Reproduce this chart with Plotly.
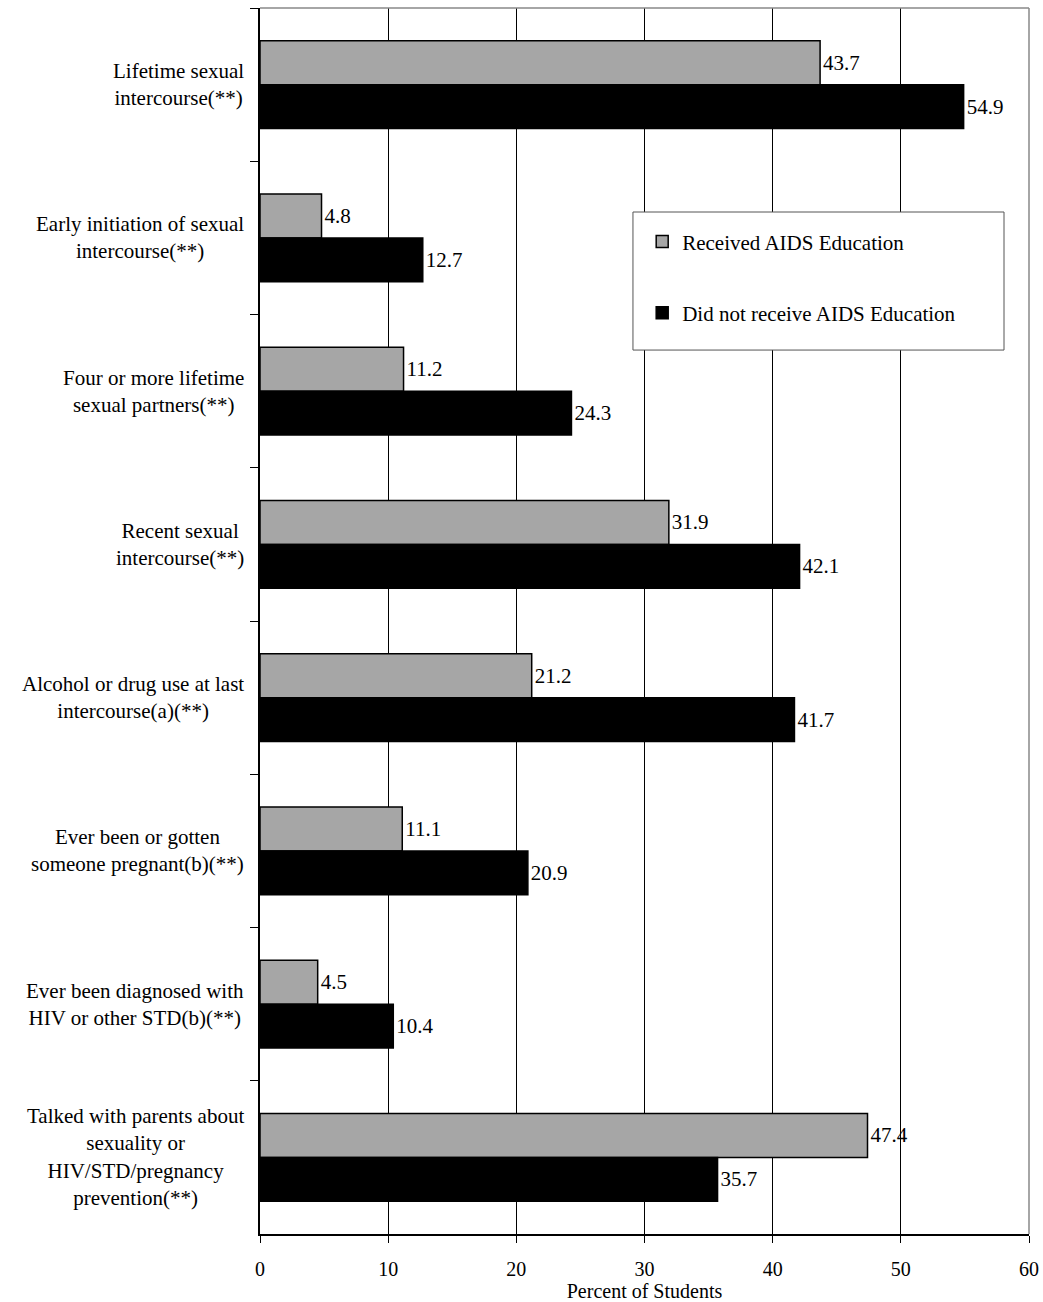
import plotly.graph_objects as go

categories = [
    "Lifetime sexual<br>intercourse(**)",
    "Early initiation of sexual<br>intercourse(**)",
    "Four or more lifetime<br>sexual partners(**)",
    "Recent sexual<br>intercourse(**)",
    "Alcohol or drug use at last<br>intercourse(a)(**)",
    "Ever been or gotten<br>someone pregnant(b)(**)",
    "Ever been diagnosed with<br>HIV or other STD(b)(**)",
    "Talked with parents about<br>sexuality or<br>HIV/STD/pregnancy<br>prevention(**)",
]
received = [43.7, 4.8, 11.2, 31.9, 21.2, 11.1, 4.5, 47.4]
not_received = [54.9, 12.7, 24.3, 42.1, 41.7, 20.9, 10.4, 35.7]
series_names = ["Received AIDS Education", "Did not receive AIDS Education"]
x_ticks = [0, 10, 20, 30, 40, 50, 60]

FONT = "Liberation Serif"
FS = 21

fig = go.Figure()
fig.add_trace(go.Bar(
    y=categories, x=received, orientation="h", name=series_names[0],
    marker=dict(color="#a6a6a6", line=dict(color="black", width=1.5)),
    text=[f"{v:.1f}" for v in received], textposition="outside",
    textfont=dict(family=FONT, size=FS, color="black"),
    cliponaxis=False, legendgroup="a",
))
fig.add_trace(go.Bar(
    y=categories, x=not_received, orientation="h", name=series_names[1],
    marker=dict(color="black", line=dict(color="black", width=1.5)),
    text=[f"{v:.1f}" for v in not_received], textposition="outside",
    textfont=dict(family=FONT, size=FS, color="black"),
    cliponaxis=False, legendgroup="b",
))

annotations = []
for c in categories:
    annotations.append(dict(
        x=0, xref="paper", y=c, yref="y", xanchor="right", yanchor="middle",
        xshift=-14, text=c, showarrow=False, align="center",
        font=dict(family=FONT, size=FS, color="black"),
    ))

shapes = [
    # gray top and right plot border
    dict(type="line", xref="paper", yref="paper", x0=0, x1=1, y0=1, y1=1,
         line=dict(color="#888888", width=1.5), layer="above"),
    dict(type="line", xref="paper", yref="paper", x0=1, x1=1, y0=0, y1=1,
         line=dict(color="#888888", width=1.5), layer="above"),
    # legend box
    dict(type="rect", xref="paper", yref="paper", x0=0.485, x1=0.9675,
         y0=0.721, y1=0.8336, line=dict(color="#555555", width=1),
         fillcolor="white", layer="above"),
]

fig.update_layout(
    width=1043, height=1302,
    margin=dict(l=260, r=14, t=8, b=68, autoexpand=False),
    paper_bgcolor="white", plot_bgcolor="white",
    barmode="group", bargap=0.426, bargroupgap=0,
    font=dict(family=FONT, size=FS, color="black"),
    showlegend=True,
    legend=dict(
        x=0.497, y=0.826, xanchor="left", yanchor="top",
        bgcolor="rgba(0,0,0,0)", borderwidth=0,
        traceorder="grouped", tracegroupgap=41,
        font=dict(family=FONT, size=FS, color="black"),
    ),
    xaxis=dict(
        range=[0, 60], tickvals=x_ticks, ticktext=[str(t) for t in x_ticks],
        showgrid=True, gridcolor="black", gridwidth=1,
        showline=True, linecolor="black", linewidth=1.5,
        ticks="outside", ticklen=7, tickcolor="black",
        ticklabelstandoff=9, automargin=False,
        zeroline=False,
        title=dict(text="Percent of Students", standoff=9,
                   font=dict(family=FONT, size=20)),
        tickfont=dict(family=FONT, size=20),
    ),
    yaxis=dict(
        autorange="reversed", showticklabels=False, automargin=False,
        ticks="outside", tickson="boundaries", ticklen=8, tickcolor="black",
        showline=True, linecolor="black", linewidth=1.5,
        showgrid=False, zeroline=False,
    ),
    annotations=annotations,
    shapes=shapes,
)

fig.write_html(
    "out.html",
    config={"displayModeBar": False},
    post_script="document.body.style.margin='0';"
                "document.documentElement.style.overflow='hidden';"
                "document.body.style.overflow='hidden';",
)
